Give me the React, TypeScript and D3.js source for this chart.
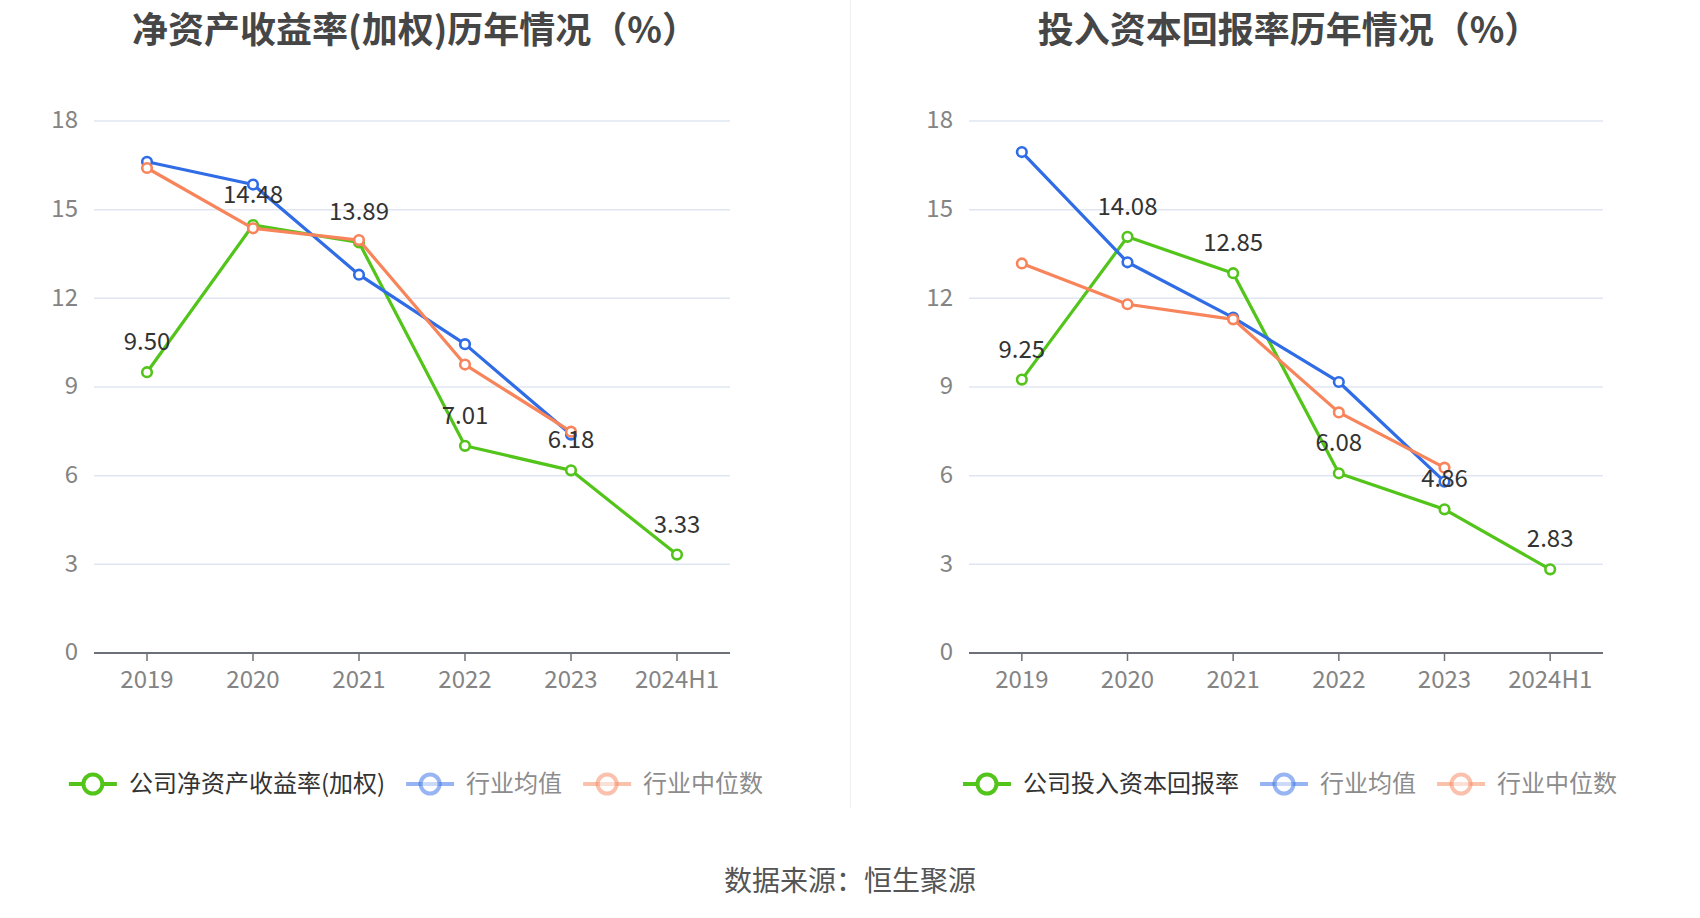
import { useEffect, useRef } from 'react'
import * as d3 from 'd3'

const years = ['2019', '2020', '2021', '2022', '2023', '2024H1']
const yTicks = [0, 3, 6, 9, 12, 15, 18]

const roeCompany = [9.5, 14.48, 13.89, 7.01, 6.18, 3.33]
const roeIndustryMean = [16.62, 15.85, 12.8, 10.45, 7.39]
const roeIndustryMedian = [16.41, 14.37, 13.97, 9.76, 7.49]

const roicCompany = [9.25, 14.08, 12.85, 6.08, 4.86, 2.83]
const roicIndustryMean = [16.95, 13.22, 11.35, 9.17, 5.8]
const roicIndustryMedian = [13.18, 11.8, 11.29, 8.14, 6.27]

const GREEN = '#52c41a'
const BLUE = '#2f6ce5'
const ORANGE = '#f7845a'
const FONT = '"Noto Sans CJK SC", "Noto Sans", sans-serif'

interface PanelSpec {
  title: string
  companyName: string
  company: number[]
  mean: number[]
  median: number[]
  left: number
  right: number
}

const panels: PanelSpec[] = [
  {
    title: '净资产收益率(加权)历年情况（%）',
    companyName: '公司净资产收益率(加权)',
    company: roeCompany,
    mean: roeIndustryMean,
    median: roeIndustryMedian,
    left: 94,
    right: 730,
  },
  {
    title: '投入资本回报率历年情况（%）',
    companyName: '公司投入资本回报率',
    company: roicCompany,
    mean: roicIndustryMean,
    median: roicIndustryMedian,
    left: 969,
    right: 1603,
  },
]

export default function App() {
  const svgRef = useRef<SVGSVGElement>(null)

  useEffect(() => {
    document.body.style.margin = '0'
    if (!svgRef.current) return
    const svg = d3.select(svgRef.current)
    svg.selectAll('*').remove()

    const top = 121
    const bottom = 653

    const y = d3.scaleLinear().domain([0, 18]).range([bottom, top])

    // divider between the two charts
    svg.append('line')
      .attr('x1', 850.5).attr('x2', 850.5)
      .attr('y1', 0).attr('y2', 808)
      .attr('stroke', '#eeeeee')
      .attr('stroke-width', 1)

    panels.forEach(p => {
      const g = svg.append('g')
      const x = d3.scaleBand().domain(years).range([p.left, p.right])
      const cx = (i: number) => (x(years[i]) ?? 0) + x.bandwidth() / 2
      const center = (p.left + p.right) / 2

      // title
      g.append('text')
        .attr('x', center + 3)
        .attr('y', 43)
        .attr('text-anchor', 'middle')
        .attr('font-family', FONT)
        .attr('font-size', 36)
        .attr('font-weight', 'bold')
        .attr('fill', '#464646')
        .text(p.title)

      // grid + y labels
      yTicks.forEach(t => {
        if (t > 0) {
          g.append('line')
            .attr('x1', p.left).attr('x2', p.right)
            .attr('y1', y(t)).attr('y2', y(t))
            .attr('stroke', '#e0e6f1')
            .attr('stroke-width', 1.5)
        }
        g.append('text')
          .attr('x', p.left - 16)
          .attr('y', y(t) - 1)
          .attr('dy', '0.35em')
          .attr('text-anchor', 'end')
          .attr('font-family', FONT)
          .attr('font-size', 24)
          .attr('fill', '#848484')
          .text(t)
      })

      // x axis
      g.append('line')
        .attr('x1', p.left).attr('x2', p.right)
        .attr('y1', bottom).attr('y2', bottom)
        .attr('stroke', '#6e7079')
        .attr('stroke-width', 2)

      years.forEach((yr, i) => {
        g.append('line')
          .attr('x1', cx(i)).attr('x2', cx(i))
          .attr('y1', bottom).attr('y2', bottom + 8)
          .attr('stroke', '#6e7079')
          .attr('stroke-width', 1.5)
        g.append('text')
          .attr('x', cx(i))
          .attr('y', 688)
          .attr('text-anchor', 'middle')
          .attr('font-family', FONT)
          .attr('font-size', 24)
          .attr('fill', '#848484')
          .text(yr)
      })

      const line = d3.line<number>()
        .x((_, i) => cx(i))
        .y(d => y(d))

      const series = [
        { data: p.company, color: GREEN },
        { data: p.mean, color: BLUE },
        { data: p.median, color: ORANGE },
      ]

      series.forEach(s => {
        g.append('path')
          .datum(s.data)
          .attr('d', line)
          .attr('fill', 'none')
          .attr('stroke', s.color)
          .attr('stroke-width', 3.2)
          .attr('stroke-linejoin', 'round')
        s.data.forEach((d, i) => {
          g.append('circle')
            .attr('cx', cx(i))
            .attr('cy', y(d))
            .attr('r', 4.8)
            .attr('fill', '#fff')
            .attr('stroke', s.color)
            .attr('stroke-width', 2.6)
        })
      })

      // value labels for company series
      p.company.forEach((d, i) => {
        g.append('text')
          .attr('x', cx(i))
          .attr('y', y(d) - 22)
          .attr('text-anchor', 'middle')
          .attr('font-family', FONT)
          .attr('font-size', 24)
          .attr('fill', '#333')
          .text(d.toFixed(2))
      })

      // legend
      const legendItems = [
        { name: p.companyName, color: GREEN, faded: false },
        { name: '行业均值', color: BLUE, faded: true },
        { name: '行业中位数', color: ORANGE, faded: true },
      ]
      const legend = g.append('g')
      const ly = 784
      let lx = 0
      legendItems.forEach(item => {
        const op = item.faded ? 0.5 : 1
        const it = legend.append('g').attr('transform', `translate(${lx},0)`)
        it.append('line')
          .attr('x1', 0).attr('x2', 48)
          .attr('y1', ly).attr('y2', ly)
          .attr('stroke', item.color)
          .attr('stroke-width', 4)
          .attr('opacity', op)
        it.append('circle')
          .attr('cx', 24).attr('cy', ly)
          .attr('r', 9.5)
          .attr('fill', '#fff')
          .attr('fill-opacity', op)
          .attr('stroke', item.color)
          .attr('stroke-width', 4)
          .attr('stroke-opacity', op)
        const txt = it.append('text')
          .attr('x', 60)
          .attr('y', ly)
          .attr('dy', '0.35em')
          .attr('font-family', FONT)
          .attr('font-size', 24)
          .attr('fill', item.faded ? '#8c8c8c' : '#333')
          .text(item.name)
        const w = (txt.node() as SVGTextElement).getComputedTextLength()
        lx += 60 + w + 21
      })
      const total = lx - 21
      legend.attr('transform', `translate(${center + 4 - total / 2},0)`)
    })

    // source
    svg.append('text')
      .attr('x', 850)
      .attr('y', 881)
      .attr('dy', '0.35em')
      .attr('text-anchor', 'middle')
      .attr('font-family', FONT)
      .attr('font-size', 28)
      .attr('fill', '#555')
      .text('数据来源：恒生聚源')
  }, [])

  return <svg ref={svgRef} width={1700} height={918} style={{ display: 'block', background: '#fff' }} />
}
